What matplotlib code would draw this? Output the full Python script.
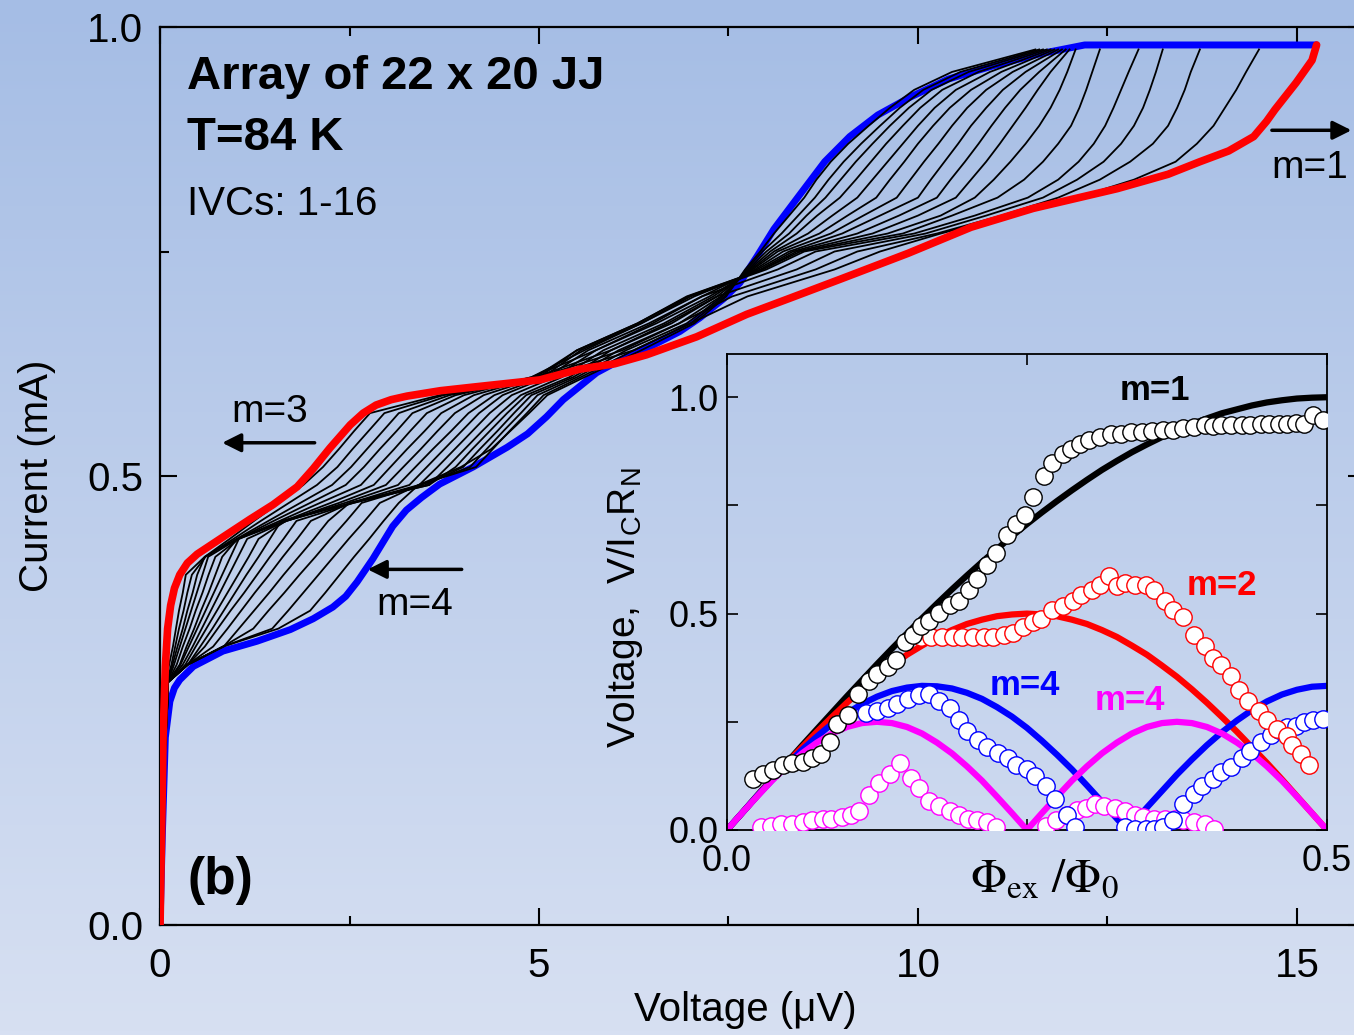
import numpy as np
import matplotlib
matplotlib.use('Agg')
import matplotlib.pyplot as plt
from matplotlib.colors import LinearSegmentedColormap
from matplotlib.ticker import FixedLocator, MultipleLocator

plt.rcParams['font.family'] = ['Liberation Sans', 'DejaVu Sans']
plt.rcParams['mathtext.fontset'] = 'custom'
plt.rcParams['mathtext.rm'] = 'Liberation Sans'

# ---- main panel: I-V curves (voltage in uV, current in mA) ----
red_v = [0.0, 0.02, 0.04, 0.07, 0.10, 0.14, 0.19, 0.26, 0.36, 0.49, 0.83, 1.19, 1.49,
         1.81, 2.02, 2.24, 2.51, 2.68, 2.85, 3.05, 3.26, 3.7, 4.13, 5.01, 5.54, 6.0,
         6.42, 7.08, 7.74, 8.31, 8.97, 9.87, 10.7, 11.52, 12.63, 13.3, 13.72, 14.1,
         14.43, 14.6, 14.71, 14.99, 15.2, 15.26]
red_i = [0.0, 0.10, 0.209, 0.288, 0.33, 0.356, 0.375, 0.39, 0.403, 0.413, 0.432, 0.452,
         0.468, 0.488, 0.508, 0.531, 0.557, 0.570, 0.579, 0.585, 0.589, 0.595, 0.599,
         0.607, 0.619, 0.625, 0.635, 0.655, 0.68, 0.698, 0.719, 0.748, 0.777, 0.798,
         0.82, 0.836, 0.85, 0.862, 0.878, 0.895, 0.908, 0.938, 0.963, 0.98]

blue_v = [0.0, 0.03, 0.07, 0.13, 0.19, 0.26, 0.44, 0.83, 1.28, 1.72, 2.02, 2.28, 2.45,
          2.6, 2.81, 3.07, 3.25, 3.45, 3.69, 4.13, 4.58, 4.85, 5.1, 5.32, 5.54, 5.76,
          6.07, 6.42, 6.86, 7.12, 7.43, 7.65, 7.88, 8.1, 8.43, 8.77, 9.1, 9.47, 9.9,
          10.4, 11.0, 11.6, 12.2, 15.26]
blue_i = [0.0, 0.10, 0.209, 0.249, 0.264, 0.273, 0.288, 0.305, 0.316, 0.329, 0.341,
          0.354, 0.366, 0.382, 0.408, 0.444, 0.462, 0.476, 0.491, 0.51, 0.532, 0.547,
          0.566, 0.585, 0.600, 0.615, 0.629, 0.642, 0.661, 0.676, 0.697, 0.715, 0.745,
          0.775, 0.812, 0.85, 0.878, 0.902, 0.922, 0.942, 0.957, 0.97, 0.98, 0.98]

# IVCs 1-16: voltage read at each current level
ivc_i = [0.0, 0.15, 0.25, 0.27, 0.29, 0.31, 0.33, 0.35, 0.37, 0.39, 0.41, 0.43, 0.45,
         0.47, 0.49, 0.51, 0.53, 0.55, 0.57, 0.59, 0.61, 0.64, 0.67, 0.70, 0.73, 0.75,
         0.77, 0.79, 0.81, 0.83, 0.85, 0.87, 0.89, 0.91, 0.93, 0.95, 0.975]
ivc_v = [
    [0, 0.02, 0.06, 0.08, 0.12, 0.17, 0.21, 0.25, 0.30, 0.34, 0.59, 0.92, 1.24, 1.57, 1.89, 2.15, 2.36, 2.56, 2.77,
     3.69, 5.1, 6.25, 7.0, 7.75, 8.9, 9.5, 10.3, 11.2, 12.1, 12.85, 13.4, 13.68, 13.9, 14.05, 14.2, 14.33, 14.5],
    [0, 0.02, 0.065, 0.09, 0.15, 0.2, 0.25, 0.31, 0.36, 0.42, 0.6, 0.97, 1.33, 1.7, 2.07, 2.34, 2.54, 2.75, 2.96,
     3.74, 5.0, 6.1, 6.85, 7.55, 8.65, 9.2, 10.25, 11.1, 11.85, 12.4, 12.8, 13.1, 13.3, 13.42, 13.52, 13.6, 13.72],
    [0, 0.02, 0.065, 0.1, 0.165, 0.23, 0.3, 0.36, 0.43, 0.49, 0.59, 1.01, 1.43, 1.85, 2.27, 2.52, 2.73, 2.94, 3.15,
     3.82, 4.95, 5.95, 6.7, 7.35, 8.4, 8.9, 10.1, 10.9, 11.65, 12.1, 12.45, 12.68, 12.85, 12.97, 13.06, 13.14, 13.23],
    [0, 0.025, 0.07, 0.1, 0.185, 0.26, 0.335, 0.41, 0.485, 0.56, 0.635, 1.03, 1.5, 1.98, 2.45, 2.69, 2.9, 3.12, 3.33,
     3.9, 4.9, 5.75, 6.5, 7.15, 8.15, 8.65, 9.95, 10.75, 11.45, 11.85, 12.12, 12.32, 12.47, 12.58, 12.68, 12.78, 12.91],
    [0, 0.025, 0.07, 0.1, 0.22, 0.3, 0.39, 0.47, 0.56, 0.64, 0.73, 1.04, 1.58, 2.11, 2.65, 2.87, 3.09, 3.3, 3.52,
     4.01, 4.9, 5.6, 6.35, 7.0, 8.0, 8.5, 9.8, 10.45, 11.05, 11.4, 11.65, 11.85, 12.02, 12.13, 12.22, 12.3, 12.4],
    [0, 0.025, 0.07, 0.1, 0.26, 0.35, 0.45, 0.54, 0.64, 0.73, 0.82, 1.02, 1.64, 2.25, 2.82, 3.04, 3.26, 3.49, 3.71,
     4.14, 4.95, 5.5, 6.3, 6.95, 7.95, 8.45, 9.6, 10.3, 10.75, 11.0, 11.22, 11.42, 11.6, 11.75, 11.87, 11.97, 12.08],
    [0, 0.03, 0.075, 0.1, 0.27, 0.38, 0.49, 0.6, 0.71, 0.82, 0.93, 1.04, 1.67, 2.36, 2.98, 3.21, 3.44, 3.66, 3.89,
     4.27, 5.0, 5.5, 6.3, 6.97, 7.95, 8.4, 9.4, 10.0, 10.5, 10.7, 10.9, 11.08, 11.25, 11.42, 11.58, 11.75, 12.0],
    [0, 0.03, 0.08, 0.1, 0.3, 0.43, 0.55, 0.67, 0.79, 0.91, 1.03, 1.15, 1.67, 2.44, 3.14, 3.37, 3.6, 3.84, 4.07,
     4.41, 5.05, 5.55, 6.35, 7.05, 7.92, 8.35, 9.2, 9.75, 10.25, 10.43, 10.62, 10.8, 10.97, 11.15, 11.35, 11.6, 11.95],
    [0, 0.03, 0.085, 0.1, 0.335, 0.47, 0.61, 0.75, 0.89, 1.03, 1.17, 1.3, 1.66, 2.52, 3.29, 3.52, 3.75, 3.98, 4.21,
     4.52, 5.1, 5.65, 6.45, 7.15, 7.88, 8.3, 9.0, 9.5, 10.0, 10.17, 10.35, 10.53, 10.7, 10.9, 11.12, 11.42, 11.9],
    [0, 0.03, 0.09, 0.1, 0.367, 0.53, 0.69, 0.84, 0.99, 1.14, 1.3, 1.45, 1.6, 2.55, 3.42, 3.66, 3.89, 4.12, 4.35,
     4.64, 5.2, 5.75, 6.55, 7.25, 7.85, 8.22, 8.85, 9.28, 9.72, 9.9, 10.08, 10.27, 10.45, 10.65, 10.9, 11.25, 11.85],
    [0, 0.035, 0.095, 0.1, 0.367, 0.59, 0.76, 0.93, 1.11, 1.28, 1.45, 1.63, 1.8, 2.55, 3.55, 3.79, 4.02, 4.25, 4.49,
     4.76, 5.3, 5.85, 6.65, 7.3, 7.82, 8.15, 8.7, 9.07, 9.45, 9.63, 9.82, 10.0, 10.2, 10.42, 10.7, 11.1, 11.8],
    [0, 0.035, 0.1, 0.1, 0.367, 0.7, 0.89, 1.07, 1.25, 1.44, 1.62, 1.81, 1.99, 2.51, 3.55, 3.9, 4.12, 4.35, 4.58,
     4.83, 5.4, 5.95, 6.75, 7.35, 7.8, 8.1, 8.55, 8.87, 9.2, 9.4, 9.6, 9.8, 10.0, 10.22, 10.5, 10.95, 11.75],
    [0, 0.035, 0.1, 0.1, 0.367, 0.84, 1.04, 1.24, 1.44, 1.63, 1.83, 2.03, 2.22, 2.5, 3.5, 4.0, 4.22, 4.45, 4.67,
     4.9, 5.45, 6.05, 6.85, 7.4, 7.78, 8.05, 8.4, 8.67, 8.97, 9.18, 9.38, 9.58, 9.8, 10.03, 10.32, 10.8, 11.7],
    [0, 0.04, 0.1, 0.1, 0.367, 0.83, 1.23, 1.43, 1.64, 1.84, 2.05, 2.25, 2.46, 2.66, 3.44, 4.09, 4.31, 4.53, 4.76,
     4.98, 5.5, 6.15, 6.95, 7.42, 7.76, 8.0, 8.3, 8.53, 8.78, 8.98, 9.18, 9.4, 9.63, 9.88, 10.18, 10.67, 11.65],
    [0, 0.04, 0.1, 0.1, 0.367, 0.83, 1.48, 1.69, 1.89, 2.09, 2.29, 2.49, 2.7, 2.9, 3.41, 4.17, 4.39, 4.61, 4.84,
     5.06, 5.55, 6.25, 7.0, 7.45, 7.74, 7.95, 8.2, 8.42, 8.64, 8.82, 9.02, 9.25, 9.5, 9.76, 10.07, 10.56, 11.6],
    [0, 0.04, 0.1, 0.1, 0.367, 0.83, 1.56, 1.98, 2.18, 2.37, 2.56, 2.76, 2.95, 3.15, 3.41, 3.97, 4.37, 4.62, 4.87,
     5.11, 5.6, 6.35, 7.05, 7.47, 7.72, 7.92, 8.1, 8.3, 8.5, 8.66, 8.85, 9.08, 9.35, 9.63, 9.95, 10.45, 11.55],
]

# ---- inset: normalized voltage vs frustration ----
phi_a = [0.0, 0.0125, 0.025, 0.0375, 0.05, 0.0625, 0.075, 0.0875, 0.1, 0.1125, 0.125,
         0.1375, 0.15, 0.1625, 0.175, 0.1875, 0.2, 0.2125, 0.225, 0.2375, 0.25,
         0.2625, 0.275, 0.2875, 0.3, 0.3125, 0.325, 0.3375, 0.35, 0.3625, 0.375,
         0.3875, 0.4, 0.4125, 0.425, 0.4375, 0.45, 0.4625, 0.475, 0.4875, 0.5]
th_m1 = [0, 0.039, 0.079, 0.118, 0.156, 0.195, 0.233, 0.271, 0.309, 0.346, 0.383,
         0.419, 0.454, 0.489, 0.523, 0.556, 0.588, 0.619, 0.649, 0.679, 0.707,
         0.734, 0.760, 0.785, 0.809, 0.832, 0.853, 0.873, 0.891, 0.908, 0.924,
         0.938, 0.951, 0.963, 0.972, 0.981, 0.988, 0.993, 0.997, 0.999, 1.0]
th_m2 = [0, 0.039, 0.078, 0.117, 0.155, 0.191, 0.227, 0.261, 0.294, 0.325, 0.354,
         0.380, 0.405, 0.426, 0.446, 0.462, 0.476, 0.486, 0.494, 0.498, 0.5,
         0.498, 0.494, 0.486, 0.476, 0.462, 0.446, 0.426, 0.405, 0.380, 0.354,
         0.325, 0.294, 0.261, 0.227, 0.191, 0.155, 0.117, 0.078, 0.039, 0.0]
th_m4 = [0, 0.039, 0.077, 0.114, 0.147, 0.177, 0.202, 0.223, 0.238, 0.247, 0.25,
         0.247, 0.238, 0.223, 0.202, 0.177, 0.147, 0.114, 0.077, 0.039, 0.0,
         0.039, 0.077, 0.114, 0.147, 0.177, 0.202, 0.223, 0.238, 0.247, 0.25,
         0.247, 0.238, 0.223, 0.202, 0.177, 0.147, 0.114, 0.077, 0.039, 0.0]
phi_b = [0.0, 0.0125, 0.025, 0.0375, 0.05, 0.0625, 0.075, 0.0875, 0.1, 0.1125, 0.125,
         0.1375, 0.15, 0.1625, 0.175, 0.1875, 0.2, 0.2125, 0.225, 0.2375, 0.25,
         0.2625, 0.275, 0.2875, 0.3, 0.3125, 0.325, 0.3333, 0.3375, 0.35, 0.3625, 0.375,
         0.3875, 0.4, 0.4125, 0.425, 0.4375, 0.45, 0.4625, 0.475, 0.4875, 0.5]
th_m3 = [0, 0.039, 0.078, 0.115, 0.151, 0.185, 0.216, 0.245, 0.270, 0.291, 0.308,
         0.321, 0.329, 0.333, 0.332, 0.327, 0.317, 0.303, 0.284, 0.262, 0.236,
         0.206, 0.174, 0.140, 0.103, 0.065, 0.026, 0.0, 0.013, 0.052, 0.090, 0.128,
         0.163, 0.196, 0.226, 0.253, 0.277, 0.297, 0.313, 0.324, 0.331, 0.333]

k_phi = [0.022, 0.030, 0.038, 0.047, 0.054, 0.063, 0.071, 0.078, 0.086, 0.092, 0.101,
         0.109, 0.118, 0.125, 0.134, 0.141, 0.148, 0.155, 0.162, 0.168, 0.177, 0.186,
         0.193, 0.202, 0.208, 0.217, 0.224, 0.233, 0.241, 0.248, 0.255, 0.264, 0.271,
         0.280, 0.287, 0.294, 0.302, 0.311, 0.320, 0.328, 0.337, 0.346, 0.354, 0.363,
         0.372, 0.380, 0.389, 0.398, 0.405, 0.412, 0.420, 0.429, 0.436, 0.445, 0.452,
         0.460, 0.467, 0.474, 0.481, 0.488, 0.497]
k_v = [0.117, 0.130, 0.138, 0.150, 0.154, 0.158, 0.167, 0.175, 0.204, 0.245, 0.266,
       0.315, 0.344, 0.360, 0.377, 0.393, 0.435, 0.451, 0.472, 0.484, 0.501, 0.521,
       0.530, 0.554, 0.579, 0.612, 0.641, 0.682, 0.707, 0.727, 0.769, 0.818, 0.847,
       0.868, 0.880, 0.892, 0.901, 0.909, 0.916, 0.916, 0.919, 0.919, 0.921, 0.924,
       0.925, 0.928, 0.932, 0.935, 0.934, 0.935, 0.935, 0.935, 0.935, 0.938, 0.938,
       0.939, 0.938, 0.940, 0.938, 0.958, 0.948]

r_phi = [0.162, 0.170, 0.179, 0.188, 0.196, 0.205, 0.214, 0.222, 0.231, 0.238, 0.247,
         0.255, 0.262, 0.271, 0.280, 0.288, 0.295, 0.304, 0.311, 0.318, 0.325, 0.332,
         0.340, 0.349, 0.356, 0.365, 0.372, 0.380, 0.389, 0.398, 0.405, 0.412, 0.420,
         0.427, 0.434, 0.443, 0.450, 0.458, 0.467, 0.471, 0.478, 0.485]
r_v = [0.447, 0.447, 0.447, 0.447, 0.447, 0.447, 0.447, 0.447, 0.451, 0.455, 0.468,
       0.480, 0.488, 0.509, 0.517, 0.530, 0.542, 0.554, 0.567, 0.587, 0.563, 0.571,
       0.567, 0.567, 0.554, 0.530, 0.509, 0.493, 0.451, 0.426, 0.398, 0.381, 0.356,
       0.323, 0.299, 0.274, 0.253, 0.233, 0.216, 0.196, 0.175, 0.150]

b_phi = [0.116, 0.125, 0.134, 0.142, 0.151, 0.160, 0.168, 0.177, 0.186, 0.193, 0.200,
         0.209, 0.217, 0.226, 0.234, 0.241, 0.250, 0.257, 0.266, 0.273, 0.283, 0.290,
         0.332, 0.340, 0.349, 0.356, 0.363, 0.372, 0.380, 0.389, 0.396, 0.405, 0.412,
         0.420, 0.429, 0.436, 0.445, 0.453, 0.460, 0.467, 0.474, 0.481, 0.488, 0.497]
b_v = [0.270, 0.274, 0.282, 0.290, 0.303, 0.311, 0.315, 0.299, 0.282, 0.253, 0.228,
       0.208, 0.191, 0.179, 0.167, 0.150, 0.142, 0.125, 0.101, 0.072, 0.035, 0.006,
       0.006, 0.002, 0.002, 0.002, 0.006, 0.022, 0.059, 0.084, 0.101, 0.117, 0.134,
       0.146, 0.167, 0.183, 0.204, 0.220, 0.232, 0.237, 0.241, 0.249, 0.253, 0.257]

m_phi = [0.028, 0.037, 0.045, 0.054, 0.063, 0.071, 0.080, 0.087, 0.096, 0.103, 0.110,
         0.118, 0.127, 0.136, 0.144, 0.153, 0.160, 0.168, 0.177, 0.186, 0.193, 0.201,
         0.208, 0.217, 0.224, 0.266, 0.274, 0.283, 0.292, 0.299, 0.307, 0.314, 0.323,
         0.332, 0.340, 0.347, 0.356, 0.365, 0.373, 0.380, 0.389, 0.398, 0.406]
m_v = [0.006, 0.010, 0.014, 0.014, 0.018, 0.022, 0.026, 0.026, 0.031, 0.035, 0.043,
       0.080, 0.109, 0.129, 0.154, 0.121, 0.096, 0.068, 0.055, 0.043, 0.035, 0.026,
       0.022, 0.018, 0.006, 0.010, 0.022, 0.035, 0.047, 0.051, 0.059, 0.055, 0.051,
       0.043, 0.035, 0.031, 0.026, 0.026, 0.026, 0.022, 0.018, 0.014, 0.002]

RED = '#ff0000'
BLUE = '#0000ff'
MAG = '#ff00ff'

fig = plt.figure(figsize=(13.54, 10.35), dpi=100)

# vertical background gradient
bg = fig.add_axes([0, 0, 1, 1])
bg_cmap = LinearSegmentedColormap.from_list('bg', ['#a5bde5', '#d7e0f2'])
bg.imshow(np.linspace(0, 1, 256)[:, None], cmap=bg_cmap, aspect='auto',
          extent=[0, 1, 0, 1])
bg.set_axis_off()

ax = fig.add_axes([0.1182, 0.1063, 0.8900, 0.8676])
ax.patch.set_alpha(0)
ax.plot(blue_v, blue_i, color=BLUE, lw=5.0, solid_capstyle='round',
        solid_joinstyle='round', zorder=2)
for v in ivc_v:
    ax.plot(v, ivc_i, color='k', lw=1.3, solid_joinstyle='round', zorder=3)
ax.plot(red_v, red_i, color=RED, lw=5.5, solid_capstyle='round',
        solid_joinstyle='round', zorder=4)

ax.set_xlim(0, 15.9)
ax.set_ylim(0, 1.0)
ax.xaxis.set_major_locator(FixedLocator([0, 5, 10, 15]))
ax.xaxis.set_minor_locator(MultipleLocator(2.5))
ax.yaxis.set_major_locator(FixedLocator([0.0, 0.5, 1.0]))
ax.yaxis.set_minor_locator(MultipleLocator(0.25))
ax.set_xticklabels(['0', '5', '10', '15'])
ax.set_yticklabels(['0.0', '0.5', '1.0'])
ax.tick_params(which='both', direction='in', top=True, right=True, width=1.5,
               labelsize=29)
ax.tick_params(which='major', length=12)
ax.tick_params(which='minor', length=6.5)
ax.tick_params(axis='x', pad=16)
ax.tick_params(axis='y', pad=12)
for s in ax.spines.values():
    s.set_linewidth(1.6)

ax.set_xlabel('Voltage (\u03bcV)', fontsize=29, va='center')
ax.xaxis.set_label_coords(0.4855, -0.095)
ax.set_ylabel('Current (mA)', fontsize=29, va='center')
ax.yaxis.set_label_coords(-0.102, 0.5)

ax.text(0.0224, 0.944, 'Array of 22 x 20 JJ', transform=ax.transAxes,
        fontsize=34, fontweight='bold', va='center', ha='left')
ax.text(0.0224, 0.876, 'T=84 K', transform=ax.transAxes,
        fontsize=34, fontweight='bold', va='center', ha='left')
ax.text(0.0224, 0.803, 'IVCs: 1-16', transform=ax.transAxes,
        fontsize=29, va='center', ha='left')
ax.text(0.05, 0.05, '(b)', transform=ax.transAxes, fontsize=37,
        fontweight='bold', va='center', ha='center')

arrow = dict(arrowstyle='-|>', color='k', lw=2.5, mutation_scale=28,
             shrinkA=0, shrinkB=0)
ax.text(1.45, 0.571, 'm=3', fontsize=28, ha='center', va='center')
ax.annotate('', xy=(0.82, 0.537), xytext=(2.04, 0.537), arrowprops=arrow)
ax.text(3.36, 0.356, 'm=4', fontsize=28, ha='center', va='center')
ax.annotate('', xy=(2.74, 0.396), xytext=(3.98, 0.396), arrowprops=arrow)
ax.text(15.17, 0.843, 'm=1', fontsize=28, ha='center', va='center')
ax.annotate('', xy=(15.72, 0.885), xytext=(14.67, 0.885), arrowprops=arrow,
            annotation_clip=False)

# inset
ai = fig.add_axes([0.5369, 0.1981, 0.4431, 0.4599])
ai.patch.set_alpha(0)
ai.plot(phi_a, th_m1, color='k', lw=4.5, zorder=2)
ai.plot(phi_a, th_m2, color=RED, lw=4.5, zorder=2)
ai.plot(phi_b, th_m3, color=BLUE, lw=4.5, zorder=2)
ai.plot(phi_a, th_m4, color=MAG, lw=4.5, zorder=2)
circ = dict(ls='none', marker='o', ms=12.5, mfc='white', mew=1.0, zorder=3)
ai.plot(m_phi, m_v, mec=MAG, **circ)
ai.plot(b_phi, b_v, mec=BLUE, **circ)
ai.plot(r_phi, r_v, mec=RED, **circ)
ai.plot(k_phi, k_v, mec='k', **circ)

ai.set_xlim(0, 0.5)
ai.set_ylim(0, 1.1)
ai.xaxis.set_major_locator(FixedLocator([0.0, 0.5]))
ai.xaxis.set_minor_locator(FixedLocator([0.25]))
ai.yaxis.set_major_locator(FixedLocator([0.0, 0.5, 1.0]))
ai.yaxis.set_minor_locator(FixedLocator([0.25, 0.75]))
ai.set_xticklabels(['0.0', '0.5'])
ai.set_yticklabels(['0.0', '0.5', '1.0'])
ai.tick_params(which='both', direction='in', top=True, right=True, width=1.2,
               labelsize=26)
ai.tick_params(which='major', length=8)
ai.tick_params(which='minor', length=8)
ai.tick_params(axis='x', pad=10)
ai.tick_params(axis='y', pad=6)
for s in ai.spines.values():
    s.set_linewidth(1.3)

ai.set_xlabel(r'$\Phi_{\rm ex}\ /\Phi_0$', fontsize=34, math_fontfamily='stix',
              va='center')
ai.xaxis.set_label_coords(0.53, -0.105)
ai.set_ylabel('Voltage,  V/I$_\\mathregular{C}$R$_\\mathregular{N}$', fontsize=28,
              va='center')
ai.yaxis.set_label_coords(-0.17, 0.468)

ai.text(0.357, 1.016, 'm=1', color='k', fontsize=25, fontweight='bold',
        ha='center', va='center')
ai.text(0.4125, 0.566, 'm=2', color=RED, fontsize=25, fontweight='bold',
        ha='center', va='center')
ai.text(0.248, 0.335, 'm=4', color=BLUE, fontsize=25, fontweight='bold',
        ha='center', va='center')
ai.text(0.336, 0.30, 'm=4', color=MAG, fontsize=25, fontweight='bold',
        ha='center', va='center')

fig.savefig('out.png', dpi=100)
